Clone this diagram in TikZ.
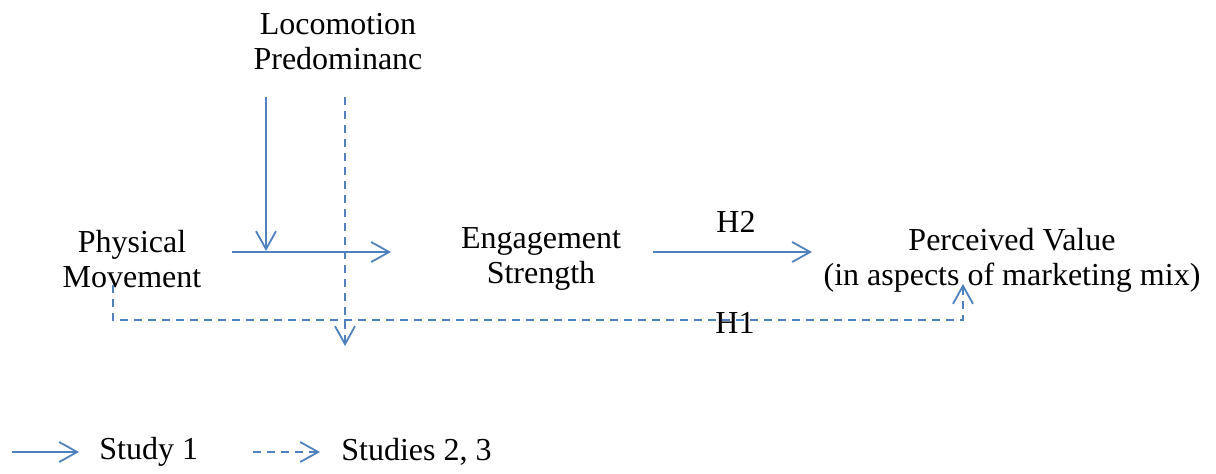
\documentclass[tikz,border=0pt]{standalone}
\usepackage{fontspec}
\setmainfont{Liberation Serif}
\usetikzlibrary{arrows.meta}
\definecolor{linkblue}{HTML}{4F81BD}

\begin{document}
\begin{tikzpicture}[x=0.5pt, y=-0.5pt,
  label text/.style={align=center, inner sep=0pt, font=\fontsize{16}{17.5}\selectfont},
  study one/.style={linkblue, line width=0.9pt, -{Straight Barb[length=9pt, width=10pt]}},
  study rest/.style={study one, dash pattern=on 4pt off 3pt}]
\useasboundingbox (0,0) rectangle (1216,473);

% variables
\node [label text] (loco) at (338,42) {Locomotion\\Predominanc};
\node [label text] (phys) at (132,259) {Physical\\Movement};
\node [label text] (engage) at (541,259) {Engagement\\Strength};
\node [label text] (value) at (1012,260) {Perceived Value\\(in aspects of marketing mix)};
\node [label text] (htwo) at (736,222) {H2};
\node [label text] (hone) at (735,323) {H1};

% arrow ends
\coordinate (loco solid top) at (266,97);
\coordinate (loco solid end) at (266,251);
\coordinate (loco dash top) at (345,97);
\coordinate (loco dash end) at (345,346);
\coordinate (phys out) at (232,252);
\coordinate (engage in) at (391,252);
\coordinate (engage out) at (653,252);
\coordinate (value in) at (812,252);
\coordinate (phys down) at (113,285);
\coordinate (value up) at (963,284);

% study 1
\draw [study one] (loco solid top) -- (loco solid end);
\draw [study one] (phys out) -- (engage in);
\draw [study one] (engage out) -- (value in);

% studies 2, 3
\draw [study rest] (loco dash top) -- (loco dash end);
\draw [study rest] (phys down) |- (963,320) -- (value up);

% legend
\coordinate (key one a) at (12,452);
\coordinate (key one b) at (79,452);
\coordinate (key two a) at (253,452);
\coordinate (key two b) at (320,452);
\draw [study one] (key one a) -- (key one b);
\draw [study rest] (key two a) -- (key two b);
\node [label text, anchor=west] (key one) at (99,452) {Study 1};
\node [label text, anchor=west] (key two) at (341,452) {Studies 2, 3};
\end{tikzpicture}
\end{document}
